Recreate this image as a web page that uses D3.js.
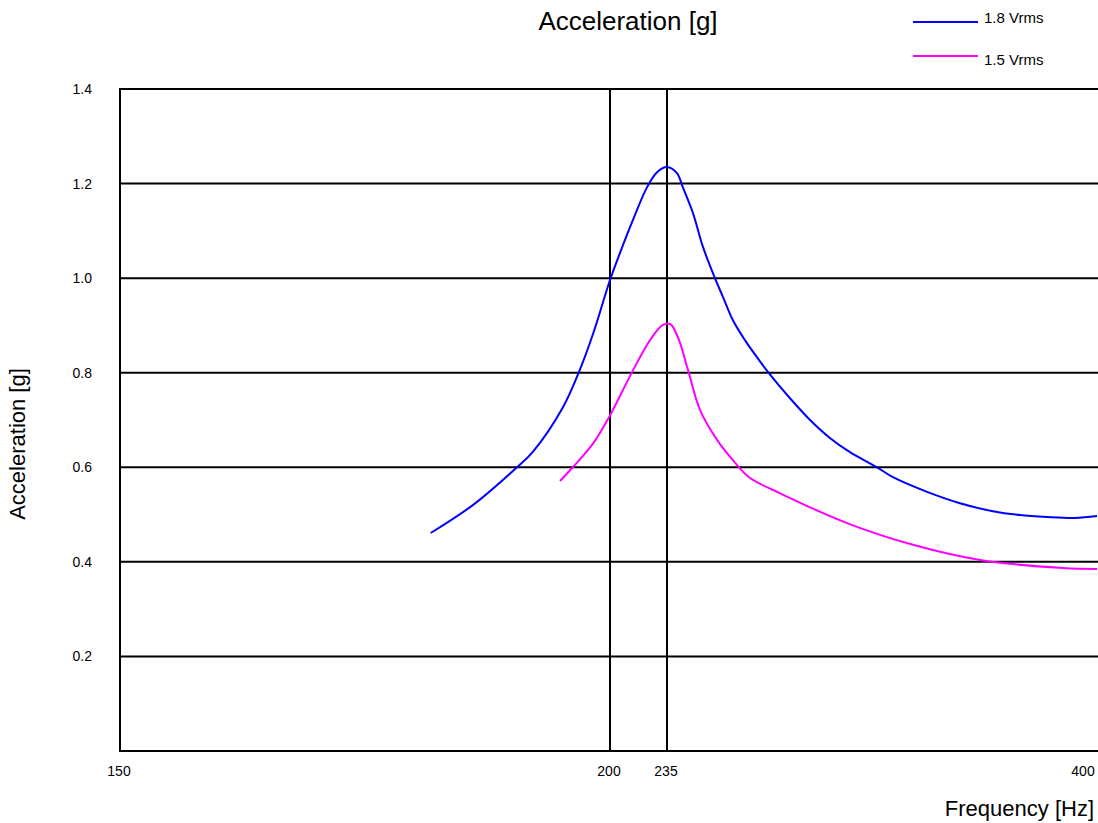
<!DOCTYPE html>
<html>
<head>
<meta charset="utf-8">
<script src="https://cdn.jsdelivr.net/npm/d3@7"></script>
<style>
  body { margin: 0; background: #fff; }
  svg { display: block; font-family: "Liberation Sans", Arial, sans-serif; }
</style>
</head>
<body>
<svg id="chart" width="1098" height="823"></svg>
<script>
// tick values
const xTicks = [150, 200, 235, 400];
const yTicks = [0.2, 0.4, 0.6, 0.8, 1.0, 1.2, 1.4];

// 1.8 Vrms response
const freq18 = [181.7, 186.0, 190.4, 192.1, 195.2, 196.9, 198.3, 200.0, 206.1, 214.1, 222.7, 228.9, 235.0,
    238.8, 241.1, 245.0, 248.8, 253.4, 256.5, 260.3, 264.9, 269.5, 274.1, 282.2, 289.9, 297.5, 305.2,
    315.6, 321.7, 334.8, 347.4, 360.1, 370.4, 380.8, 391.5, 400];
const acc18 = [0.461, 0.520, 0.598, 0.632, 0.727, 0.805, 0.884, 0.996, 1.053, 1.123, 1.192, 1.224, 1.235,
    1.222, 1.192, 1.137, 1.066, 1.000, 0.960, 0.911, 0.869, 0.833, 0.799, 0.746, 0.700, 0.662, 0.632,
    0.600, 0.579, 0.548, 0.524, 0.507, 0.499, 0.495, 0.493, 0.497];

// 1.5 Vrms response
const freq15 = [194.9, 196.2, 198.3, 199.9, 214.1, 224.6, 232.5, 236.2, 239.2, 243.1, 247.7, 254.2, 260.3,
    266.5, 278.4, 304.1, 329.4, 355.1, 387.0, 400];
const acc15 = [0.571, 0.600, 0.651, 0.706, 0.805, 0.869, 0.901, 0.903, 0.875, 0.805, 0.721, 0.658, 0.615,
    0.579, 0.545, 0.482, 0.436, 0.404, 0.387, 0.385];

const seriesNames = ["1.8 Vrms", "1.5 Vrms"];
const seriesColors = ["#0000ff", "#ff00ff"];

var svg = d3.select("#chart");
var plotLeft = 120, plotRight = 1097, plotTop = 89, plotBottom = 751;

// frequency axis is not uniform: each labelled frequency sits at its own spot
var x = d3.scaleLinear()
    .domain(xTicks)
    .range([plotLeft, 610, 667, plotRight]);
var y = d3.scaleLinear()
    .domain([0, 1.4])
    .range([plotBottom, plotTop]);

// grid
var grid = svg.append("g").attr("class", "grid");
grid.selectAll("line.h")
    .data(yTicks)
    .enter().append("line")
    .attr("class", "h")
    .attr("x1", plotLeft).attr("x2", 1098)
    .attr("y1", d => y(d)).attr("y2", d => y(d))
    .attr("stroke", "#000").attr("stroke-width", 2);
grid.selectAll("line.v")
    .data(xTicks.slice(1, 3))
    .enter().append("line")
    .attr("class", "v")
    .attr("x1", d => x(d)).attr("x2", d => x(d))
    .attr("y1", plotTop).attr("y2", plotBottom)
    .attr("stroke", "#000").attr("stroke-width", 2);
// left and bottom frame
grid.append("line")
    .attr("x1", plotLeft).attr("x2", plotLeft).attr("y1", plotTop - 1).attr("y2", plotBottom + 1)
    .attr("stroke", "#000").attr("stroke-width", 2);
grid.append("line")
    .attr("x1", plotLeft).attr("x2", 1098).attr("y1", plotBottom).attr("y2", plotBottom)
    .attr("stroke", "#000").attr("stroke-width", 2);

// tick labels
svg.append("g").selectAll("text")
    .data(yTicks)
    .enter().append("text")
    .attr("x", 92)
    .attr("y", d => y(d) + 5)
    .attr("text-anchor", "end")
    .attr("font-size", 14)
    .text(d => d.toFixed(1));

svg.append("g").selectAll("text")
    .data(xTicks)
    .enter().append("text")
    .attr("x", (d, i) => i === xTicks.length - 1 ? x(d) - 14 : x(d) - 1)
    .attr("y", 776)
    .attr("text-anchor", "middle")
    .attr("font-size", 14)
    .text(d => d);

// curves
var line = d3.line()
    .x(d => x(d[0]))
    .y(d => y(d[1]))
    .curve(d3.curveCatmullRom.alpha(0.5));

[[freq18, acc18], [freq15, acc15]].forEach((s, i) => {
    svg.append("path")
        .datum(s[0].map((f, j) => [f, s[1][j]]))
        .attr("fill", "none")
        .attr("stroke", seriesColors[i])
        .attr("stroke-width", 2)
        .attr("d", line);
});

// titles
svg.append("text")
    .attr("x", 628).attr("y", 30)
    .attr("text-anchor", "middle")
    .attr("font-size", 26)
    .text("Acceleration [g]");
svg.append("text")
    .attr("x", 1094).attr("y", 816)
    .attr("text-anchor", "end")
    .attr("font-size", 22)
    .text("Frequency [Hz]");
svg.append("text")
    .attr("transform", "translate(25,444) rotate(-90)")
    .attr("text-anchor", "middle")
    .attr("font-size", 22)
    .text("Acceleration [g]");

// legend
var legend = svg.append("g").attr("id", "legend");
seriesNames.forEach((name, i) => {
    var ly = 22 + i * 34;
    legend.append("line")
        .attr("x1", 913).attr("x2", 978)
        .attr("y1", ly).attr("y2", ly)
        .attr("stroke", seriesColors[i]).attr("stroke-width", 2);
    legend.append("text")
        .attr("x", 984).attr("y", 23 + i * 42)
        .attr("font-size", 15)
        .text(name);
});
</script>
</body>
</html>
